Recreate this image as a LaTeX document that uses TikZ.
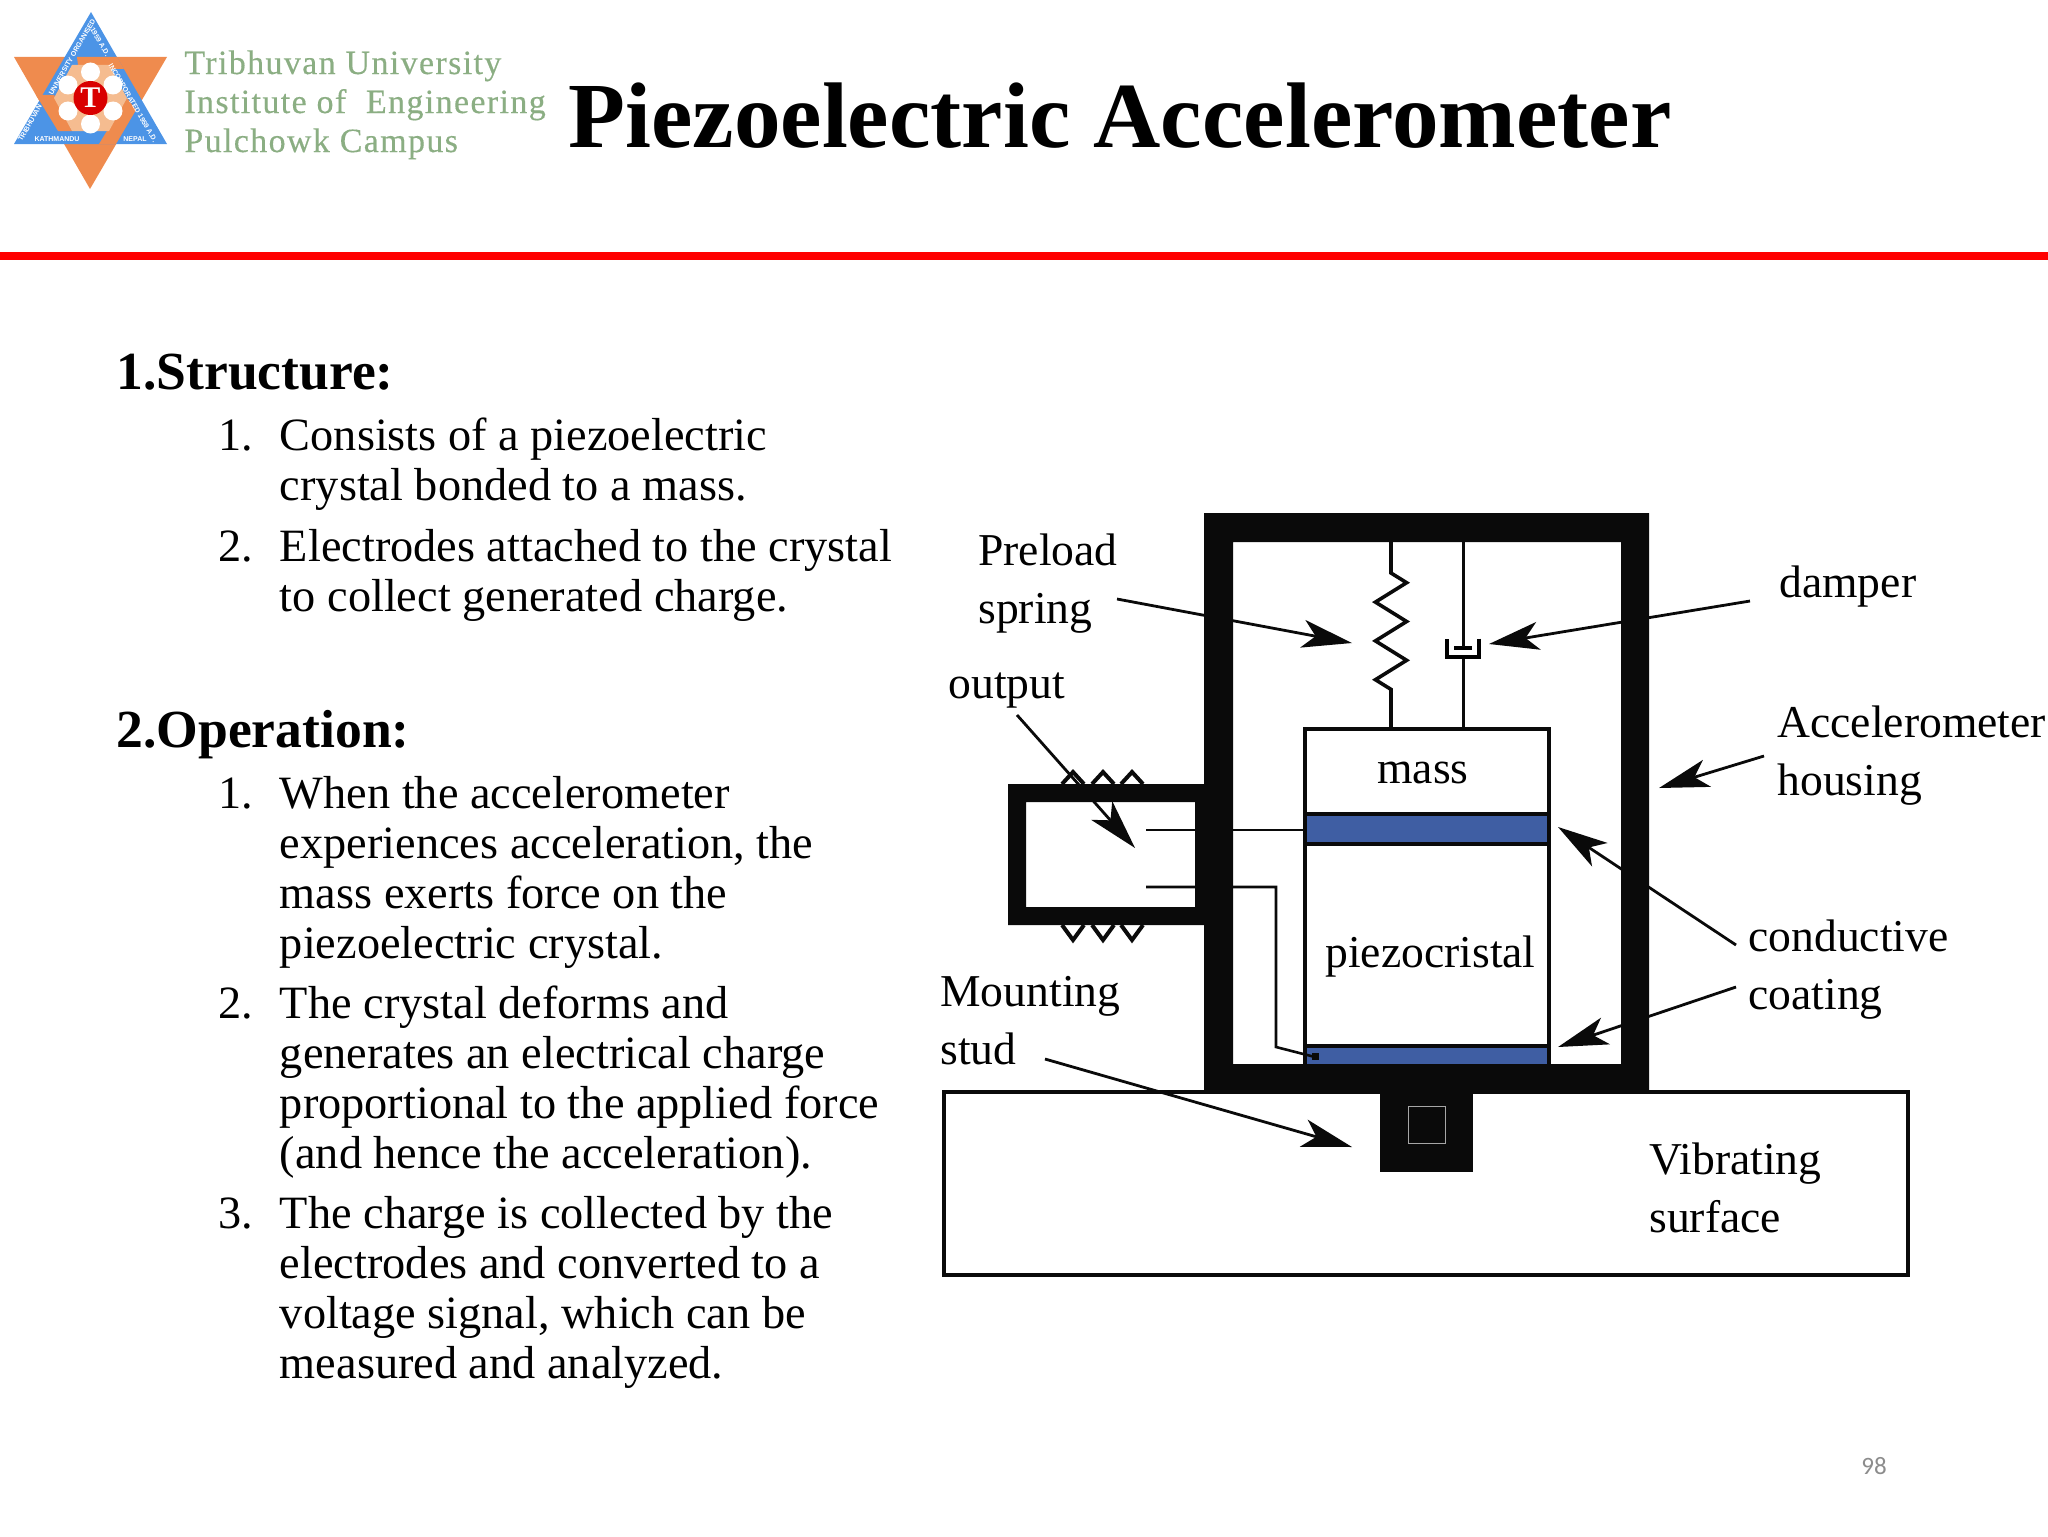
\documentclass[tikz,border=0pt]{standalone}
\usepackage{fontspec}
\setmainfont{Liberation Serif}
\newfontfamily\logofont[LetterSpace=4,FakeBold=0.35]{Liberation Serif}
\newfontfamily\crestfont{Liberation Sans}
\newfontfamily\pagefont{Carlito}
\usetikzlibrary{calc,arrows.meta,decorations.pathmorphing,decorations.markings}
\def\mycolorb{black!96}
\definecolor{platecolor}{HTML}{3F5EA3}
\definecolor{crestblue}{HTML}{4C94E6}
\definecolor{crestorange}{HTML}{EF8B4E}
\definecolor{crestpetal}{HTML}{F5BC90}
\definecolor{logogreen}{HTML}{8BAE83}

\begin{document}
\begin{tikzpicture}[x=0.5pt,y=-0.5pt]
\tikzstyle{spring}=[line width=1.8pt,decorate,decoration={zigzag,pre length=15.5pt,post length=19.5pt,segment length=19.4pt,amplitude=7.8pt}]
\tikzstyle{damper}=[line width=1.5pt,decoration={markings,
  mark connection node=dmp,
  mark=at position 0.591 with
  {
    \node (dmp) [inner sep=0pt,transform shape,minimum width=4.5pt,minimum height=10pt,draw=none] {};
    \draw [line width=1.6pt] (-7pt,8pt) -- (2.25pt,8pt) -- (2.25pt,-8pt) -- (-7pt,-8pt);
    \draw [line width=1.6pt] (-2.25pt,4.5pt) -- (-2.25pt,-4.5pt);
  }
}, decorate]
\tikzstyle{pointer}=[line width=1.4pt,-{Stealth[length=25pt,width=14pt,inset=6.5pt]}]
\tikzstyle{wire}=[line width=1.3pt]
\tikzstyle{caption}=[inner sep=0pt,anchor=base west,align=left,font=\fontsize{22.8}{29}\selectfont]
\tikzstyle{body}=[inner sep=0pt,anchor=base west,align=left,font=\fontsize{23.15}{25}\selectfont]
\tikzstyle{heading}=[inner sep=0pt,anchor=base west,font=\fontsize{26.8}{30}\selectfont\bfseries]
\tikzstyle{crestlabel}=[inner sep=0pt,text=white,font=\fontsize{3.5}{4}\selectfont\crestfont\bfseries]

\useasboundingbox (0,0) rectangle (2048,1536);

% banner
\fill [red] (0,252) rectangle (2048,260);
\node (title) [inner sep=0pt,anchor=base west,font=\fontsize{46.6}{50}\selectfont\bfseries] at (568,148) {Piezoelectric Accelerometer};

% crest
\fill [crestorange] (14,57) -- (167,57) -- (90,189) -- cycle;
\fill [crestblue] (91,12) -- (167,144) -- (14,144) -- cycle;
\fill [crestorange] (77,57) -- (117,57) -- (124,69) -- (110,69) -- (107,65) -- (78,65) -- cycle;
\fill [crestorange] (36,95) -- (54,95) -- (72,131) -- (58,131) -- cycle;
\fill [crestorange] (127,98) -- (99,144) -- (116,144) -- (136,110) -- cycle;
\fill [crestpetal] (72,65) -- (109,65) -- (127,98) -- (109,131) -- (72,131) -- (54,98) -- cycle;
\fill [white] (90.5,72) circle (9.5);
\fill [white] (113,85) circle (9.5);
\fill [white] (113,111) circle (9.5);
\fill [white] (90.5,124) circle (9.5);
\fill [white] (68,111) circle (9.5);
\fill [white] (68,85) circle (9.5);
\node (crestdisc) [circle,fill=red!85!black,minimum size=17pt,inner sep=0pt,text=white,font=\fontsize{15}{15}\selectfont\bfseries] at (90.5,98) {T};
\node (kathmandu) [crestlabel] at (57,139) {KATHMANDU};
\node (nepal) [crestlabel] at (135,139) {NEPAL};
\node (tribhuvan) [crestlabel,rotate=60] at (30,123) {TRIBHUVAN};
\node (organised) [crestlabel,rotate=60] at (72,57) {UNIVERSITY ORGANISED};
\node (founded) [crestlabel,rotate=-60] at (100,42) {1959 A.D.};
\node (incorporated) [crestlabel,rotate=-60] at (133,103) {INCORPORATED 1959 A.D.};

\node (campus) [inner sep=0pt,anchor=base west,align=left,text=logogreen,font=\fontsize{17}{19.5}\selectfont\logofont] at (184,152) {Tribhuvan University\\Institute of\ \ Engineering\\Pulchowk Campus};

% text column
\node (structure) [heading] at (116,389) {1.Structure:};
\node (sn1) [body] at (218,450.5) {1.};
\node (st1) [body] at (279.5,500.5) {Consists of a piezoelectric\\crystal bonded to a mass.};
\node (sn2) [body] at (218,561) {2.};
\node (st2) [body] at (279.5,611) {Electrodes attached to the crystal\\to collect generated charge.};

\node (operation) [heading] at (116,747) {2.Operation:};
\node (on1) [body] at (218,808.5) {1.};
\node (ot1) [body] at (279.5,958.5) {When the accelerometer\\experiences acceleration, the\\mass exerts force on the\\piezoelectric crystal.};
\node (on2) [body] at (218,1018.5) {2.};
\node (ot2) [body] at (279.5,1168.5) {The crystal deforms and\\generates an electrical charge\\proportional to the applied force\\(and hence the acceleration).};
\node (on3) [body] at (218,1228.5) {3.};
\node (ot3) [body] at (279.5,1378.5) {The charge is collected by the\\electrodes and converted to a\\voltage signal, which can be\\measured and analyzed.};

\node (pagenum) [inner sep=0pt,anchor=base west,text=black!45,font=\fontsize{12.5}{14}\selectfont\pagefont] at (1861,1474) {98};

% base and housing
\draw [line width=1.8pt,\mycolorb] (944,1092) rectangle (1908,1275);
\fill [\mycolorb,even odd rule] (1204,513) -- (1649,513) -- (1649,1093) -- (1204,1093) -- (1204,925) -- (1008,925) -- (1008,784) -- (1204,784) -- cycle
  (1233,542) rectangle (1621,1064)
  (1026,802) rectangle (1195,907);
\fill [\mycolorb] (1380,1090) rectangle (1473,1172);
\draw [black!35,line width=0.4pt] (1408,1106) rectangle (1445,1143);

% connector teeth
\draw [line width=2pt,\mycolorb] (1062,784) -- (1073,772) -- (1084,784) (1092,784) -- (1103,772) -- (1114,784) (1121,784) -- (1132,772) -- (1143,784);
\draw [line width=2pt,\mycolorb] (1062,925) -- (1073,940) -- (1084,925) (1092,925) -- (1103,940) -- (1114,925) (1121,925) -- (1132,940) -- (1143,925);

% mass and crystal
\fill [platecolor] (1305,814) rectangle (1549,844);
\fill [platecolor] (1305,1046) rectangle (1549,1064);
\draw [line width=1.6pt,\mycolorb] (1305,1064) -- (1305,729) -- (1549,729) -- (1549,1064);
\draw [line width=1.8pt,\mycolorb] (1305,814) -- (1549,814);
\draw [line width=1.8pt,\mycolorb] (1305,844) -- (1549,844);
\draw [line width=1.8pt,\mycolorb] (1305,1046) -- (1549,1046);

\coordinate (springtop) at (1391,542);
\coordinate (springend) at (1391,729);
\coordinate (dampertop) at (1463,542);
\coordinate (damperend) at (1463,729);
\draw [spring,\mycolorb] (springtop) -- (springend);
\draw [damper,\mycolorb] (dampertop) -- (damperend);

% wires
\draw [wire,\mycolorb] (1146,830) -- (1305,830);
\draw [wire,\mycolorb] (1146,887) -- (1276,887) -- (1276,1047) -- (1315,1057);
\fill [\mycolorb] (1312,1053) rectangle (1319,1060);

% labels
\node (preload) [caption] at (978,623) {Preload\\spring};
\node (output) [caption] at (948,698) {output};
\node (mounting) [caption] at (940,1064) {Mounting\\stud};
\node (damperlab) [caption] at (1779,597) {damper};
\node (housing) [caption] at (1777,795) {Accelerometer\\housing};
\node (coating) [caption] at (1748,1009) {conductive\\coating};
\node (mass) [caption] at (1377,783) {mass};
\node (crystal) [caption] at (1325,967) {piezocristal};
\node (surface) [caption] at (1649,1232) {Vibrating\\surface};

% pointers
\coordinate (preloadtail) at (1117,599);
\coordinate (preloadtip) at (1352,643);
\coordinate (outputtail) at (1017,715);
\coordinate (outputtip) at (1135,848);
\coordinate (dampertail) at (1750,601);
\coordinate (dampertip) at (1489,644);
\coordinate (housingtail) at (1764,756);
\coordinate (housingtip) at (1659,788);
\coordinate (coattail) at (1736,945);
\coordinate (coattip) at (1558,827);
\coordinate (lowtail) at (1736,987);
\coordinate (lowtip) at (1558,1047);
\coordinate (studtail) at (1045,1059);
\coordinate (studtip) at (1352,1147);
\draw [pointer,\mycolorb] (preloadtail) -- (preloadtip);
\draw [pointer,\mycolorb] (outputtail) -- (outputtip);
\draw [pointer,\mycolorb] (dampertail) -- (dampertip);
\draw [pointer,\mycolorb] (housingtail) -- (housingtip);
\draw [pointer,\mycolorb] (coattail) -- (coattip);
\draw [pointer,\mycolorb] (lowtail) -- (lowtip);
\draw [pointer,\mycolorb] (studtail) -- (studtip);

\end{tikzpicture}
\end{document}
